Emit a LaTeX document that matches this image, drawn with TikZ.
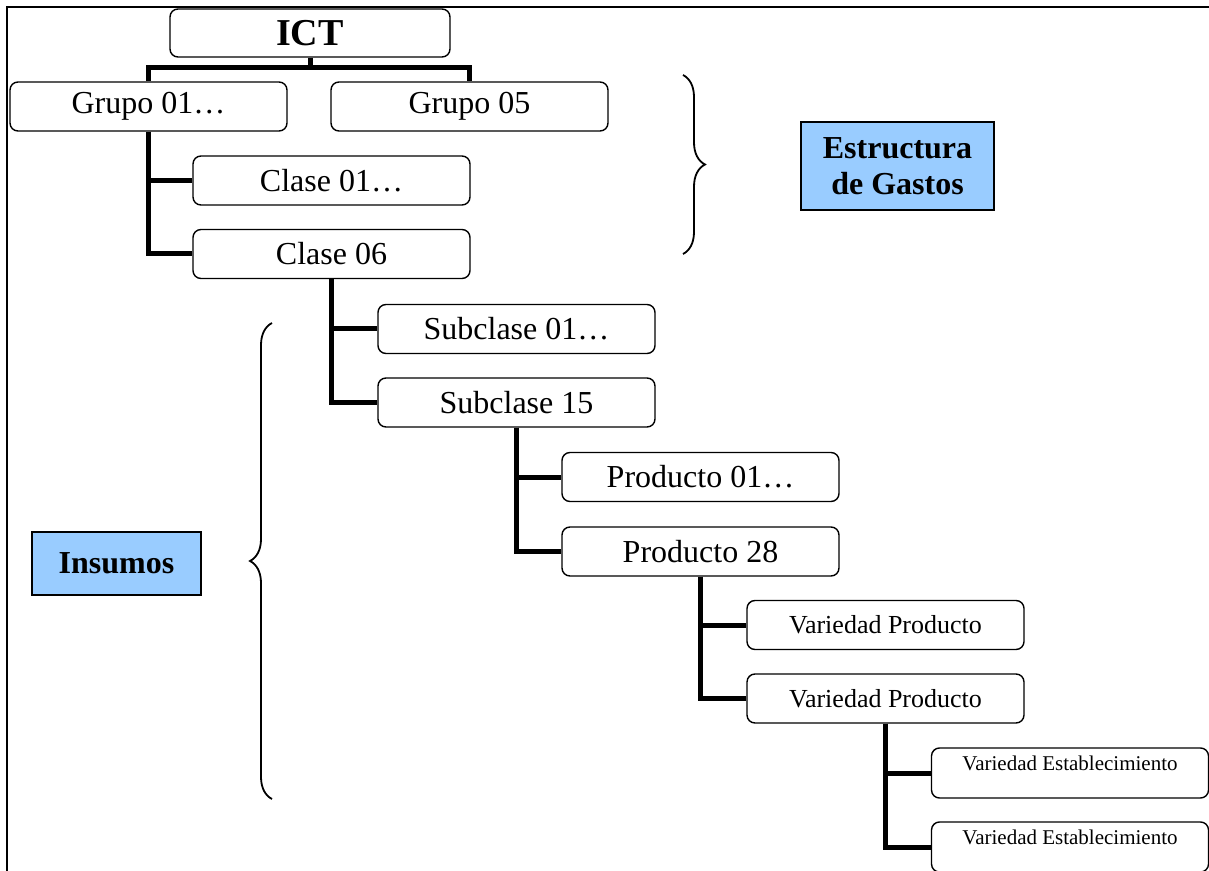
\documentclass[tikz,border=0pt]{standalone}
\usepackage{fontspec}
\setmainfont{Liberation Serif}
\usetikzlibrary{decorations.pathreplacing}
\definecolor{celeste}{HTML}{99CCFF}
\begin{document}
\begin{tikzpicture}[x=0.5pt,y=-0.5pt,line join=miter,
	caja/.style={draw,rounded corners=4pt,line width=0.7pt,minimum width=138.5pt,minimum height=24.5pt,inner sep=0pt,font=\fontsize{16}{18}\selectfont},
	chica/.style={caja,font=\fontsize{13}{15}\selectfont},
	mini/.style={caja,font=\fontsize{10.5}{12}\selectfont,text height=11pt,text depth=14pt,minimum height=25pt},
	etiqueta/.style={draw,fill=celeste,line width=0.8pt,inner sep=0pt,align=center,font=\bfseries\fontsize{16}{18.3}\selectfont},
	enlace/.style={line width=2.5pt},
	llave/.style={decorate,decoration={brace,amplitude=11pt,aspect=0.5},line width=0.9pt}]
	\useasboundingbox (0,0) rectangle (1209,871);
	\def\xa{148.5}
	\def\xb{331.5}
	\def\xc{516.5}
	\def\xd{700.5}
	\def\xe{885.5}
	\def\xf{1070}
	% marco
	\draw[line width=0.8pt] (7,871) -- (7,7) -- (1209,7);
	% arbol
	\node[caja,minimum width=140pt,minimum height=24pt,font=\bfseries\fontsize{19}{21}\selectfont] (ICT) at (310,33){ICT};
	\node[caja] (G1) at (\xa,106.5){Grupo 01…};
	\node[caja] (G5) at (469.5,106.5){Grupo 05};
	\node[caja] (C1) at (\xb,180.5){Clase 01…};
	\node[caja] (C6) at (\xb,254){Clase 06};
	\node[caja] (S1) at (\xc,329){Subclase 01…};
	\node[caja] (S15) at (\xc,402.5){Subclase 15};
	\node[caja] (P1) at (\xd,477){Producto 01…};
	\node[caja] (P28) at (\xd,551.5){Producto 28};
	\node[chica] (V1) at (\xe,625){Variedad Producto};
	\node[chica] (V2) at (\xe,698.5){Variedad Producto};
	\node[mini] (E1) at (\xf,773){Variedad Establecimiento};
	\node[mini] (E2) at (\xf,847){Variedad Establecimiento};
	\coordinate (bar) at (310,68);
	\draw[enlace] (ICT.south) -- (bar);
	\draw[enlace] (G1.north) |- (bar) -| (G5.north);
	\foreach \a/\b in {G1/C1,G1/C6,C6/S1,C6/S15,S15/P1,S15/P28,P28/V1,P28/V2,V2/E1,V2/E2}
	{
		\draw[enlace] (\a.south) |- (\b.west);
	}
	% grupos
	\node[etiqueta,minimum width=96.5pt,minimum height=44pt] (EG) at (897.5,166){Estructura\\de Gastos};
	\node[etiqueta,minimum width=84.5pt,minimum height=31.5pt] (IN) at (116.5,563.5){Insumos};
	\draw[llave] (683,75) -- (683,254);
	\draw[llave] (272,799) -- (272,323);
\end{tikzpicture}
\end{document}
